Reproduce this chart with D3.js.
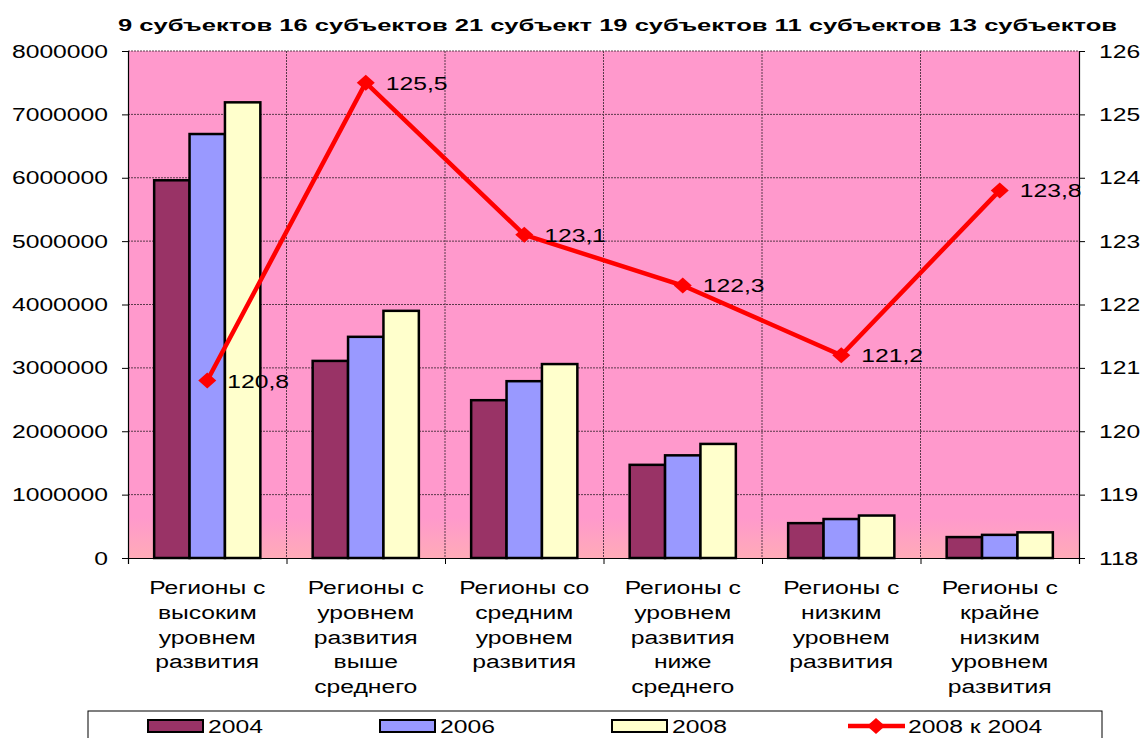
<!DOCTYPE html>
<html>
<head>
<meta charset="utf-8">
<script src="https://cdn.jsdelivr.net/npm/d3@7"></script>
<style>
  body { margin: 0; background: #fff; }
  svg { display: block; font-family: "Liberation Sans", Arial, sans-serif; }
</style>
</head>
<body>
<div id="viz"></div>
<script>
// data
const titleText = '9 субъектов 16 субъектов 21 субъект 19 субъектов 11 субъектов 13 субъектов';
const categories = [
  'Регионы с\nвысоким\nуровнем\nразвития',
  'Регионы с\nуровнем\nразвития\nвыше\nсреднего',
  'Регионы со\nсредним\nуровнем\nразвития',
  'Регионы с\nуровнем\nразвития\nниже\nсреднего',
  'Регионы с\nнизким\nуровнем\nразвития',
  'Регионы с\nкрайне\nнизким\nуровнем\nразвития'
];
const years = ['2004', '2006', '2008'];
const values2004 = [5960000, 3110000, 2490000, 1470000, 550000, 330000];
const values2006 = [6690000, 3490000, 2790000, 1620000, 615000, 365000];
const values2008 = [7190000, 3900000, 3060000, 1800000, 670000, 405000];
const ratio = [120.8, 125.5, 123.1, 122.3, 121.2, 123.8]; // 2008 к 2004
const ratioLabels = ['120,8', '125,5', '123,1', '122,3', '121,2', '123,8'];
const lineName = '2008 к 2004';
const leftTicks = [0, 1000000, 2000000, 3000000, 4000000, 5000000, 6000000, 7000000, 8000000];
const rightTicks = [118, 119, 120, 121, 122, 123, 124, 125, 126];

const width = 1142, height = 738,
  plot = { left: 128, right: 1079, top: 51, bottom: 558 },
  SX = 1.3; // text in the picture is stretched wide
const colors = { '2004': '#993366', '2006': '#9999FF', '2008': '#FFFFCC' };
const seriesVals = { '2004': values2004, '2006': values2006, '2008': values2008 };

const svg = d3.select('#viz').append('svg')
  .attr('width', width).attr('height', height);

// background gradient
const grad = svg.append('defs').append('linearGradient')
  .attr('id', 'bg').attr('x1', 0).attr('y1', 0).attr('x2', 0).attr('y2', 1);
grad.append('stop').attr('offset', '0').attr('stop-color', '#FF99CC');
grad.append('stop').attr('offset', '0.92').attr('stop-color', '#FF99CC');
grad.append('stop').attr('offset', '1').attr('stop-color', '#FFABB8');

svg.append('rect')
  .attr('x', plot.left).attr('y', plot.top)
  .attr('width', plot.right - plot.left).attr('height', plot.bottom - plot.top)
  .attr('fill', 'url(#bg)');

// scales
const x0 = d3.scaleBand().domain(categories).range([plot.left, plot.right]);
const bw = x0.bandwidth();
const x1 = d3.scaleBand().domain(years).range([bw * 0.165, bw * 0.835]);
const xEdge = d3.scaleLinear().domain([0, categories.length]).range([plot.left, plot.right]);
const yLeft = d3.scaleLinear().domain([0, 8000000]).range([plot.bottom, plot.top]);
const yRight = d3.scaleLinear().domain([118, 126]).range([plot.bottom, plot.top]);

// grid
svg.append('g').selectAll('line')
  .data(leftTicks.slice(1)).enter().append('line')
  .attr('x1', plot.left).attr('x2', plot.right)
  .attr('y1', d => yLeft(d)).attr('y2', d => yLeft(d))
  .attr('stroke', '#5a3a4a').attr('stroke-width', 1).attr('stroke-dasharray', '2,1');
svg.append('g').selectAll('line')
  .data(d3.range(1, categories.length)).enter().append('line')
  .attr('x1', d => xEdge(d)).attr('x2', d => xEdge(d))
  .attr('y1', plot.top).attr('y2', plot.bottom)
  .attr('stroke', '#5a3a4a').attr('stroke-width', 1).attr('stroke-dasharray', '2,1');

// bars
const groups = svg.append('g').selectAll('g')
  .data(categories).enter().append('g')
  .attr('transform', d => `translate(${x0(d)},0)`);
groups.selectAll('rect')
  .data((d, i) => years.map(y => ({ year: y, value: seriesVals[y][i] })))
  .enter().append('rect')
  .attr('x', d => x1(d.year))
  .attr('width', x1.bandwidth())
  .attr('y', d => yLeft(d.value))
  .attr('height', d => plot.bottom - yLeft(d.value))
  .attr('fill', d => colors[d.year])
  .attr('stroke', '#000').attr('stroke-width', 2.5);

// axes
const fontSize = 19;
const leftAxis = svg.append('g')
  .attr('transform', `translate(${plot.left},0)`)
  .call(d3.axisLeft(yLeft).tickValues(leftTicks).tickSize(6).tickPadding(0).tickFormat(d => String(d)));
leftAxis.selectAll('text')
  .attr('transform', `scale(${SX},1)`).attr('x', -20 / SX)
  .attr('font-size', fontSize).attr('fill', '#000').attr('font-family', null);
const rightAxis = svg.append('g')
  .attr('transform', `translate(${plot.right},0)`)
  .call(d3.axisRight(yRight).tickValues(rightTicks).tickSize(6).tickFormat(d => String(d)));
rightAxis.selectAll('text')
  .attr('transform', `scale(${SX},1)`).attr('x', 20 / SX)
  .attr('font-size', fontSize).attr('fill', '#000').attr('font-family', null);
svg.append('g')
  .attr('transform', `translate(0,${plot.bottom})`)
  .call(d3.axisBottom(xEdge).ticks(categories.length).tickSize(6).tickFormat(''));
svg.selectAll('.domain').attr('stroke', '#000').attr('stroke-width', 1.2);
svg.selectAll('.tick line').attr('stroke', '#000');

// category labels
const catLabels = svg.append('g').selectAll('text')
  .data(categories).enter().append('text')
  .attr('transform', d => `translate(${x0(d) + bw / 2},594) scale(${SX},1)`)
  .attr('text-anchor', 'middle').attr('font-size', fontSize);
catLabels.selectAll('tspan')
  .data(d => d.split('\n')).enter().append('tspan')
  .attr('x', 0).attr('y', (d, i) => i * 24.8)
  .text(d => d);

// line 2008 к 2004
const cx = i => x0(categories[i]) + bw / 2;
svg.append('path')
  .datum(ratio)
  .attr('d', d3.line().x((d, i) => cx(i)).y(d => yRight(d)))
  .attr('fill', 'none').attr('stroke', '#FF0000').attr('stroke-width', 4.5)
  .attr('stroke-linejoin', 'miter');
const diamond = 'M-9,0L0,-8L9,0L0,8Z';
svg.append('g').selectAll('path')
  .data(ratio).enter().append('path')
  .attr('d', diamond)
  .attr('transform', (d, i) => `translate(${cx(i)},${yRight(d)})`)
  .attr('fill', '#FF0000');
svg.append('g').selectAll('text')
  .data(ratio).enter().append('text')
  .attr('transform', (d, i) => `translate(${cx(i) + 20},${yRight(d) + 7}) scale(${SX},1)`)
  .attr('font-size', fontSize)
  .text((d, i) => ratioLabels[i]);

// title
const title = svg.append('text')
  .attr('x', 118).attr('y', 31)
  .attr('font-size', 16).attr('font-weight', 'bold')
  .attr('textLength', 999).attr('lengthAdjust', 'spacingAndGlyphs')
  .text(titleText);

// legend
svg.append('rect')
  .attr('x', 88).attr('y', 711).attr('width', 1014).attr('height', 40)
  .attr('fill', '#fff').attr('stroke', '#000').attr('stroke-width', 1);
const legendX = { '2004': 148, '2006': 380, '2008': 612 };
years.forEach(y => {
  svg.append('rect')
    .attr('x', legendX[y]).attr('y', 720).attr('width', 55).attr('height', 12)
    .attr('fill', colors[y]).attr('stroke', '#000').attr('stroke-width', 2);
  svg.append('text')
    .attr('transform', `translate(${legendX[y] + 60},733) scale(${SX},1)`)
    .attr('font-size', fontSize)
    .text(y);
});
svg.append('line')
  .attr('x1', 848).attr('x2', 905).attr('y1', 726).attr('y2', 726)
  .attr('stroke', '#FF0000').attr('stroke-width', 4.5);
svg.append('path')
  .attr('d', diamond).attr('transform', 'translate(876,726)').attr('fill', '#FF0000');
svg.append('text')
  .attr('transform', `translate(908,733) scale(${SX},1)`)
  .attr('font-size', fontSize)
  .text(lineName);
</script>
</body>
</html>
